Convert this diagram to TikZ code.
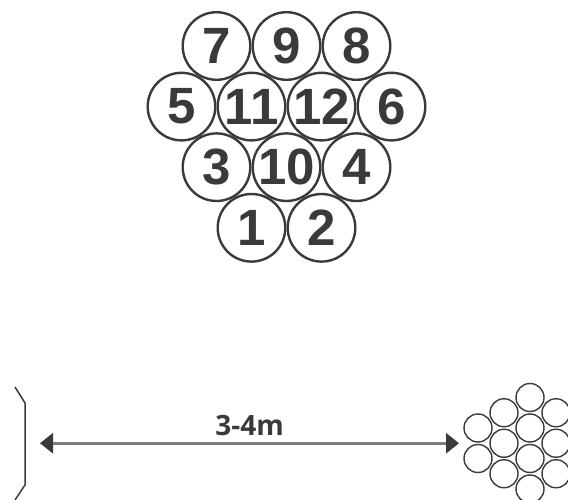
\documentclass[tikz,border=0pt]{standalone}
\usepackage{fontspec}
\setmainfont{Liberation Sans}
\newfontfamily\labelfont{Open Sans}
\usetikzlibrary{arrows.meta}
\definecolor{ink}{HTML}{3A3A3A}
\definecolor{rulegray}{HTML}{7C7C7C}
\tikzset{
  ball/.style={circle,draw=ink,line width=2.4pt,minimum size=67.6pt,inner sep=0pt,
    text=ink,font=\fontsize{51}{51}\selectfont\bfseries},
  pin/.style={circle,draw=ink,line width=1.4pt,minimum size=28pt,inner sep=0pt},
  dimtip/.tip={Triangle[length=13pt,width=20pt,color=ink]}
}
\begin{document}
\begin{tikzpicture}[x=1pt,y=-1pt]
      \useasboundingbox (0,0) rectangle (568,500);
      \foreach \n/\x/\y in {7/216.5/46,9/286.5/46,8/356.5/46,
          5/181.5/106.6,11/251.5/106.6,12/321.5/106.6,6/391.5/106.6,
          3/216.5/167.2,10/286.5/167.2,4/356.5/167.2,
          1/251.5/227.8,2/321.5/227.8}
        \node[ball] (b\n) at (\x,\y) {\n};
      \foreach \i/\x/\y in {1/478/428,2/478/458.5,
          3/504/412.75,4/504/443.25,5/504/473.75,
          6/530/397.5,7/530/428,8/530/458.5,9/530/489,
          10/556/412.75,11/556/443.25,12/556/473.75}
        \node[pin] (p\i) at (\x,\y) {};
      \draw[ink,line width=1.5pt] (15,387) -- (25,403) -- (25,485) -- (15,500);
      \coordinate (wall) at (40,443.25);
      \coordinate (rack) at (459,443.25);
      \draw[dimtip-dimtip,rulegray,line width=3pt] (wall) -- (rack)
        node[midway,above=3pt,text=ink,font=\labelfont\bfseries\fontsize{28}{28}\selectfont] (dist) {3-4m};
    \end{tikzpicture}
\end{document}
